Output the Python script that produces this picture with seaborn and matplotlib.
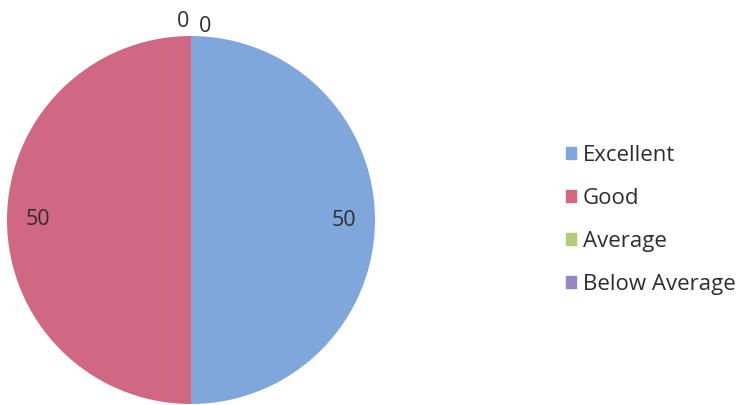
import matplotlib
matplotlib.use("Agg")
import matplotlib.pyplot as plt
import seaborn as sns
import numpy as np

categories = ["Excellent", "Good", "Average", "Below Average"]
values = [50, 50, 0, 0]
colors = ["#80a7dc", "#d06882", "#b7cb7c", "#9487c4"]

sns.set_style("white")
plt.rcParams['font.family'] = ['Open Sans', 'DejaVu Sans']

W, H = 747, 405
fig = plt.figure(figsize=(W / 100, H / 100), dpi=100)
cx, cy, r = 191, 405 - 220, 184
half = r * 1.25
ax = fig.add_axes([(cx - half) / W, (cy - half) / H, 2 * half / W, 2 * half / H])
ax.set_xlim(-1.25, 1.25)
ax.set_ylim(-1.25, 1.25)
ax.set_aspect("equal")
ax.axis("off")

wedges, _ = ax.pie(values, colors=sns.color_palette(colors), startangle=90,
                   counterclock=False, radius=1.0,
                   wedgeprops=dict(linewidth=0))

for w, v in zip(wedges, values):
    ang = np.deg2rad((w.theta1 + w.theta2) / 2)
    if v > 0:
        d = 0.83
        ax.text(d * np.cos(ang), d * np.sin(ang), str(v), ha="center", va="center",
                fontsize=15.5, color="#2e2e2e")

# zero-value labels placed outside at the top
zero_idx = [i for i, v in enumerate(values) if v == 0]
offsets = [(-0.045, 1.08), (0.075, 1.05)]
for k, i in enumerate(zero_idx):
    x, y = offsets[k % len(offsets)]
    ax.text(x, y, str(values[i]), ha="center", va="center", fontsize=15.5, color="#2e2e2e")

handles = [plt.Rectangle((0, 0), 1, 1, color=c) for c in colors]
fig.legend(handles, categories, loc="center left", bbox_to_anchor=(546 / W, 1 - 220 / H),
           frameon=False, fontsize=16, handlelength=0.45, handleheight=0.45,
           handletextpad=0.3, labelspacing=1.0, labelcolor="#2e2e2e")

fig.savefig("out.png", dpi=100)
